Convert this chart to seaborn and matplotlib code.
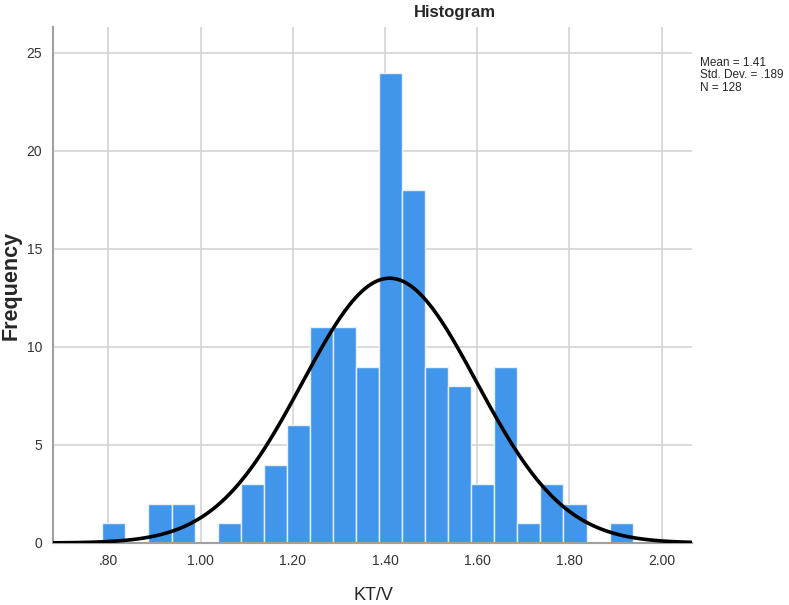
import numpy as np
import pandas as pd
import matplotlib
matplotlib.use("Agg")
import matplotlib.pyplot as plt
import seaborn as sns

# histogram bins (SPSS style)
bin_start = 0.787
bin_width = 0.05
counts = [1, 0, 2, 2, 0, 1, 3, 4, 6, 11, 11, 9, 24, 18, 9, 8, 3, 9, 1, 3, 2, 0, 1]

# summary stats shown in the chart
mean = 1.41
std = 0.189
n = 128

x_ticks = [0.8, 1.0, 1.2, 1.4, 1.6, 1.8, 2.0]
x_ticklabels = [".80", "1.00", "1.20", "1.40", "1.60", "1.80", "2.00"]
y_ticks = [0, 5, 10, 15, 20, 25]

sns.set_style("white")
plt.rcParams['font.family'] = ['Liberation Sans', 'DejaVu Sans']

n_bins = len(counts)
centers = bin_start + bin_width * (np.arange(n_bins) + 0.5)
df = pd.DataFrame({"ktv": centers, "count": counts})

fig = plt.figure(figsize=(7.89, 6.05), dpi=100)
ax = fig.add_axes([0.0672, 0.1025, 0.810, 0.853])

sns.histplot(data=df, x="ktv", weights="count", binwidth=bin_width,
             binrange=(bin_start, bin_start + bin_width * n_bins),
             color="#4196EC", alpha=1, edgecolor="#E8F1FB", linewidth=1,
             ax=ax, zorder=2)

# fitted normal curve
xs = np.linspace(0.68, 2.066, 400)
ys = n * bin_width / (std * np.sqrt(2 * np.pi)) * np.exp(-0.5 * ((xs - mean) / std) ** 2)
sns.lineplot(x=xs, y=ys, color="black", linewidth=2.6, ax=ax, zorder=3)

ax.set_xlim(0.68, 2.066)
ax.set_ylim(0, 26.33)
ax.set_xticks(x_ticks)
ax.set_xticklabels(x_ticklabels)
ax.set_yticks(y_ticks)
ax.tick_params(length=0, labelsize=10, colors="#333333", pad=8)
ax.grid(True, color="#D4D4D4", linewidth=1.2, zorder=0)
ax.set_axisbelow(True)
for side in ["top", "right"]:
    ax.spines[side].set_visible(False)
for side in ["left", "bottom"]:
    ax.spines[side].set_color("#A0A0A0")
    ax.spines[side].set_linewidth(1.5)

ax.set_xlabel("")
ax.set_ylabel("")
fig.text(373 / 789, 1 - 596 / 605, "KT/V", fontsize=13, ha="center", va="center")
fig.text(11 / 789, 1 - 285 / 605, "Frequency", fontsize=15.5, fontweight="bold",
         rotation=90, ha="center", va="center")
fig.text(455 / 789, 1 - 13 / 605, "Histogram", fontsize=12, fontweight="bold",
         ha="center", va="center")
fig.text(700 / 789, 1 - 57 / 605, f"Mean = {mean}\nStd. Dev. = .189\nN = {n}",
         fontsize=8.5, ha="left", va="top", linespacing=1.05)

plt.savefig("out.png", dpi=100)
